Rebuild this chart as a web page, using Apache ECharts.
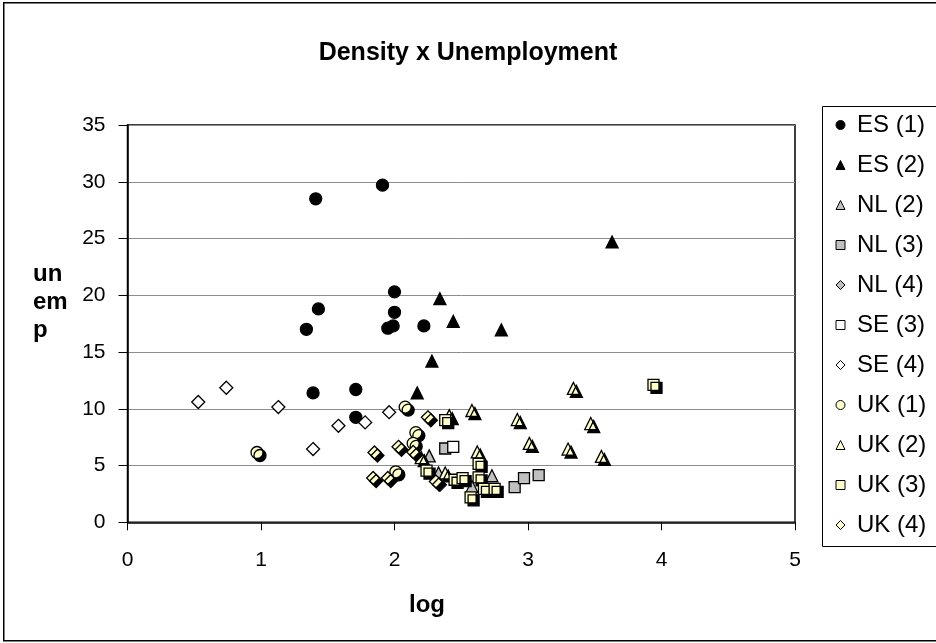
<!DOCTYPE html>
<html><head><meta charset="utf-8">
<script src="https://cdn.jsdelivr.net/npm/echarts@6/dist/echarts.min.js"></script>
<style>html,body{margin:0;padding:0;background:#fff}#c{width:936px;height:643px}</style>
</head><body><div id="c"></div>
<script>
// Data: [log density, unemployment]
var seriesNames = ['ES (1)','ES (2)','NL (2)','NL (3)','NL (4)','SE (3)','SE (4)','UK (1)','UK (2)','UK (3)','UK (4)'];
var es1 = [[1.41,28.5],[1.91,29.7],[2.00,20.3],[1.43,18.8],[2.00,18.5],[1.34,17.0],[1.95,17.1],[1.99,17.3],[2.22,17.3],[1.39,11.4],[1.71,11.7],[1.71,9.25]];
var es2 = [[2.34,19.7],[2.44,17.7],[2.80,16.95],[2.28,14.2],[2.17,11.4],[3.63,24.7]];
var nl2 = [[2.26,5.85],[2.33,4.35],[2.73,4.1],[2.58,3.15]];
var nl3 = [[2.90,3.1],[2.97,3.9],[3.08,4.15],[2.38,6.5]];
var nl4 = [[2.34,3.3]];
var se3 = [[2.44,6.65]];
var se4 = [[0.53,10.6],[0.74,11.85],[1.13,10.15],[1.39,6.45],[1.58,8.5],[1.78,8.8],[1.96,9.7]];
var uk1 = [[0.97,6.15],[2.01,4.45],[2.08,10.15],[2.16,7.9],[2.14,6.95]];
var uk2 = [[2.41,9.4],[2.58,9.85],[2.92,9.05],[3.34,11.8],[3.47,8.7],[3.01,6.95],[3.30,6.45],[3.55,5.8],[2.62,6.2],[2.20,5.7],[2.38,4.35]];
var uk3 = [[3.94,12.1],[2.38,9.0],[2.24,4.55],[2.45,3.75],[2.51,3.9],[2.63,5.15],[2.63,3.95],[2.57,2.2],[2.67,2.95],[2.75,2.95]];
var uk4 = [[2.25,9.25],[1.85,6.15],[1.84,3.9],[1.95,3.9],[2.03,6.65],[2.14,6.2],[2.31,3.6]];
var xTicks = [0,1,2,3,4,5];
var yTicks = [0,5,10,15,20,25,30,35];

var FONT = '"Liberation Sans", Arial, sans-serif';
var YEL = '#FFFFCC', GRY = '#C0C0C0';
var shadow = {shadowColor:'#000', shadowBlur:0, shadowOffsetX:3, shadowOffsetY:3};
function mk(name, data, symbol, size, fill, withShadow){
  var st = {color: fill, borderColor:'#000', borderWidth:1.3, opacity:1};
  if (withShadow) Object.assign(st, shadow);
  return {name:name, type:'scatter', data:data, symbol:symbol, symbolSize:size, itemStyle:st, emphasis:{disabled:true}, animation:false};
}
var series = [
  mk(seriesNames[0], es1, 'circle', 12, '#000', false),
  mk(seriesNames[1], es2, 'triangle', 12, '#000', false),
  mk(seriesNames[2], nl2, 'triangle', 12, GRY, false),
  mk(seriesNames[3], nl3, 'rect', 11, GRY, false),
  mk(seriesNames[4], nl4, 'diamond', 13, GRY, false),
  mk(seriesNames[5], se3, 'rect', 11, '#fff', false),
  mk(seriesNames[6], se4, 'diamond', 13, '#fff', false),
  mk(seriesNames[7], uk1, 'circle', 12, YEL, true),
  mk(seriesNames[8], uk2, 'triangle', 12, YEL, true),
  mk(seriesNames[9], uk3, 'rect', 11, YEL, true),
  mk(seriesNames[10], uk4, 'diamond', 13, YEL, true)
];

var chart = echarts.init(document.getElementById('c'), null, {renderer:'canvas'});
chart.setOption({
  animation:false,
  backgroundColor:'#fff',
  title:{text:'Density x Unemployment', left:'center', top:36, textStyle:{fontFamily:FONT, fontSize:25, fontWeight:'bold', color:'#000'}},
  grid:{left:127.5, right:141, top:125, bottom:120.7, show:true, borderColor:'#000', borderWidth:1.5, backgroundColor:'transparent'},
  xAxis:{type:'value', min:xTicks[0], max:xTicks[xTicks.length-1], interval:1,
    axisLine:{show:true, onZero:false, lineStyle:{color:'#000', width:1.5}},
    axisTick:{show:true, inside:false, length:8, lineStyle:{color:'#000', width:1}},
    axisLabel:{margin:27, fontFamily:FONT, fontSize:21, color:'#000'},
    splitLine:{show:false}},
  yAxis:{type:'value', min:yTicks[0], max:yTicks[yTicks.length-1], interval:5,
    axisLine:{show:true, onZero:false, lineStyle:{color:'#000', width:1.5}},
    axisTick:{show:true, inside:false, length:9, lineStyle:{color:'#000', width:1}},
    axisLabel:{margin:22, fontFamily:FONT, fontSize:21, color:'#000'},
    splitLine:{show:true, lineStyle:{color:'#8c8c8c', width:1}}},
  legend:{orient:'vertical', left:830.5, top:108, itemWidth:9, itemHeight:9, itemGap:16,
    data:seriesNames, selectedMode:false,
    itemStyle:{shadowColor:'transparent', shadowBlur:0, shadowOffsetX:0, shadowOffsetY:0, borderColor:'#000', borderWidth:1},
    textStyle:{fontFamily:FONT, fontSize:24, color:'#000', padding:[0,0,0,7]}},
  graphic:[
    {type:'rect', left:3, top:2, z:-10, shape:{width:960, height:638}, style:{fill:'#fff', stroke:'#000', lineWidth:1.5}},
    {type:'rect', left:822, top:106, z:-5, shape:{width:140, height:440}, style:{fill:'#fff', stroke:'#000', lineWidth:1}},
    {type:'text', left:33, top:260, style:{text:'un\nem\np', fontFamily:FONT, fontSize:24, fontWeight:'bold', fill:'#000', lineHeight:28}},
    {type:'text', x:427, y:605, style:{text:'log', fontFamily:FONT, fontSize:24, fontWeight:'bold', fill:'#000', align:'center', verticalAlign:'middle'}}
  ],
  series:series
});
</script></body></html>
